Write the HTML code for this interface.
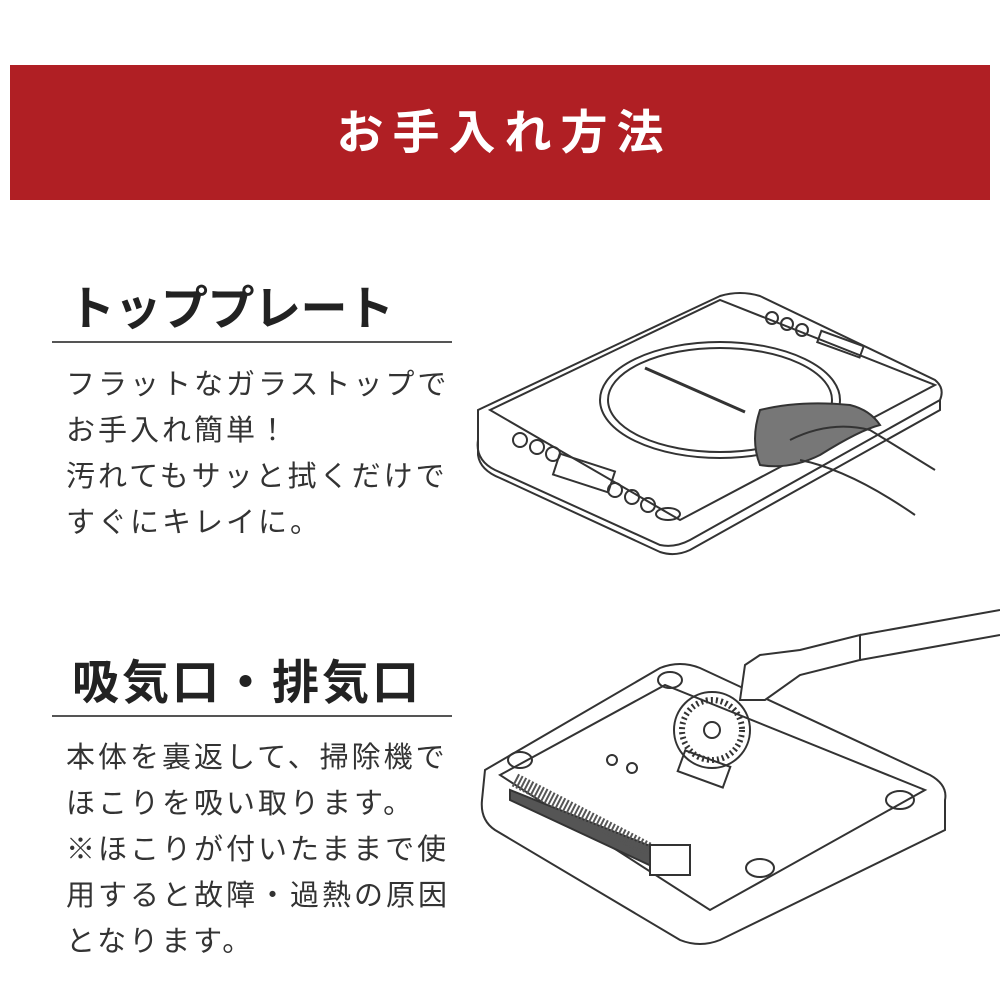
<!DOCTYPE html>
<html><head><meta charset="utf-8"><style>
body{margin:0;width:1000px;height:1000px;background:#fff;position:relative;overflow:hidden;font-family:"Liberation Sans","Noto Sans CJK JP",sans-serif;color:#2a2a2a}
.banner{position:absolute;left:10px;top:65px;width:980px;height:135px;background:#b01f24;color:#fff;font-size:47px;font-weight:bold;text-align:center;line-height:135px;letter-spacing:9px;text-indent:9px}
.h{position:absolute;left:68px;font-size:47px;font-weight:bold;letter-spacing:0px;color:#222}
.rule{position:absolute;left:52px;width:400px;height:2px;background:#555}
.t{position:absolute;left:66px;font-size:29px;line-height:46px;letter-spacing:3px;color:#333;white-space:nowrap}
svg{position:absolute;left:0;top:0}
</style></head><body>
<div class="banner">お手入れ方法</div>
<div class="h" style="top:270px;letter-spacing:-0.5px">トッププレート</div>
<div class="rule" style="top:341px"></div>
<div class="t" style="top:362px">フラットなガラストップで<br>お手入れ簡単！<br>汚れてもサッと拭くだけで<br>すぐにキレイに。</div>
<div class="h" style="top:644px;left:72px;letter-spacing:3px">吸気口・排気口</div>
<div class="rule" style="top:715px"></div>
<div class="t" style="top:735px">本体を裏返して、掃除機で<br>ほこりを吸い取ります。<br>※ほこりが付いたままで使<br>用すると故障・過熱の原因<br>となります。</div>
<svg width="1000" height="1000" fill="none" stroke="#333" stroke-width="2">
<path d="M478 410 L720 296 Q740 290 760 296 L935 380 Q945 388 940 400 L690 540 Q675 548 660 545 L495 470 Q475 460 478 440 Z" fill="#fff"/>
<path d="M490 410 L720 300 L935 385 L680 520 Z"/>
<path d="M478 440 L478 455 Q480 470 500 478 L660 552 Q675 557 690 550 L940 410 L940 400"/>
<ellipse cx="720" cy="400" rx="120" ry="58"/>
<ellipse cx="720" cy="400" rx="112" ry="52"/>
<line x1="645" y1="368" x2="745" y2="412" stroke-width="3"/>
<rect x="555" y="462" width="58" height="22" transform="rotate(18 584 473)"/>
<circle cx="520" cy="440" r="7"/><circle cx="537" cy="447" r="7"/><circle cx="553" cy="454" r="7"/>
<circle cx="615" cy="490" r="7"/><circle cx="632" cy="497" r="7"/><circle cx="648" cy="505" r="7"/><ellipse cx="668" cy="514" rx="12" ry="6"/>
<circle cx="772" cy="318" r="6"/><circle cx="787" cy="324" r="6"/><circle cx="802" cy="330" r="6"/>
<rect x="818" y="338" width="45" height="12" transform="rotate(20 840 344)"/>
<path d="M760 410 Q750 440 760 465 Q790 470 820 455 Q860 430 880 425 Q870 410 850 405 Q800 400 760 410Z" fill="#777"/>
<path d="M790 440 Q830 420 870 430 L935 470 M800 460 Q850 470 915 515" />
<path d="M485 770 L660 668 Q680 660 700 668 L930 775 Q948 785 945 800 L945 830 L720 940 Q700 948 680 940 L495 830 Q480 820 482 800 Z" fill="#fff"/>
<path d="M500 775 L665 685 L925 790 L710 910 Z"/>
<path d="M510 790 L510 800 L660 870 L660 850 Z" fill="#555"/>
<path d="M515 780 L650 850" stroke-width="14" stroke="#555" stroke-dasharray="2 2"/>
<rect x="650" y="845" width="40" height="30" fill="#fff"/>
<circle cx="712" cy="730" r="38"/>
<circle cx="712" cy="730" r="30" stroke-dasharray="2 3" stroke-width="6"/>
<circle cx="712" cy="730" r="8"/>
<rect x="680" y="758" width="48" height="22" transform="rotate(20 704 769)"/>
<circle cx="612" cy="760" r="5"/><circle cx="632" cy="768" r="5"/>
<ellipse cx="520" cy="760" rx="12" ry="8"/><ellipse cx="670" cy="680" rx="12" ry="8"/><ellipse cx="900" cy="800" rx="14" ry="9"/><ellipse cx="760" cy="868" rx="14" ry="9"/>
<path d="M745 665 L760 655 L800 650 L860 635 L860 660 L800 675 L765 700 L740 700 Z" fill="#fff"/>
<path d="M860 635 L1000 610 M860 660 L1000 635"/>
</svg>
</body></html>
